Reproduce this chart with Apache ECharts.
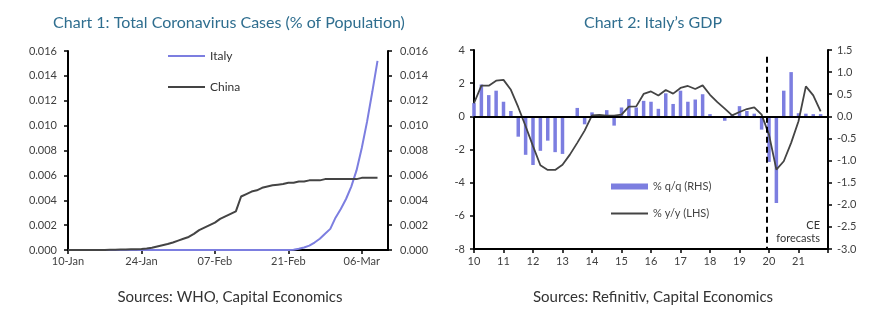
<!DOCTYPE html>
<html><head><meta charset="utf-8">
<script src="https://cdn.jsdelivr.net/npm/echarts@6/dist/echarts.min.js"></script>
<style>html,body{margin:0;padding:0;background:#fff}#c{width:891px;height:326px}</style>
</head><body><div id="c"></div>
<script>
// ---------- Chart 1 data ----------
const dateLabels = [
 '10-Jan','11-Jan','12-Jan','13-Jan','14-Jan','15-Jan','16-Jan','17-Jan','18-Jan','19-Jan','20-Jan','21-Jan','22-Jan','23-Jan','24-Jan','25-Jan','26-Jan','27-Jan','28-Jan','29-Jan','30-Jan','31-Jan',
 '01-Feb','02-Feb','03-Feb','04-Feb','05-Feb','06-Feb','07-Feb','08-Feb','09-Feb','10-Feb','11-Feb','12-Feb','13-Feb','14-Feb','15-Feb','16-Feb','17-Feb','18-Feb','19-Feb','20-Feb','21-Feb','22-Feb','23-Feb','24-Feb','25-Feb','26-Feb','27-Feb','28-Feb','29-Feb',
 '01-Mar','02-Mar','03-Mar','04-Mar','05-Mar','06-Mar','07-Mar','08-Mar','09-Mar','10-Mar','11-Mar'
];
const italyCases = [
 0,0,0,0,0,0,0,0,0,0,0,0,0,0,0,0,0,0,0,0,0,0,0,0,0,0,0,0,0,0,0,0,0,0,0,0,0,0,0,0,0,0,
 0,0.00002,0.0001,0.0002,0.00035,0.0006,0.0009,0.0013,
 0.0017,0.0026,0.0033,0.0041,0.0051,0.0064,0.0082,0.0103,0.0127,0.0152
];
const chinaCases = [
 0,0,0,0,0,0,0,0,
 0.00002,0.00003,0.00004,0.00005,0.00006,0.00007,0.00009,0.00012,
 0.00018,0.00028,0.00038,0.00048,0.0006,0.00075,0.0009,0.00105,
 0.0013,0.0016,0.0018,0.002,0.0022,0.0025,0.0027,0.0029,
 0.0031,0.0043,0.0045,0.0047,0.0048,0.0050,0.0051,0.0052,
 0.00525,0.0053,0.0054,0.0054,0.0055,0.0055,0.0056,0.0056,
 0.0056,0.0057,0.0057,0.0057,0.0057,0.0057,0.0057,0.0057,
 0.0058,0.0058,0.0058,0.0058
];
// ---------- Chart 2 data ----------
const quarters = [
 '2010Q1','2010Q2','2010Q3','2010Q4','2011Q1','2011Q2','2011Q3','2011Q4',
 '2012Q1','2012Q2','2012Q3','2012Q4','2013Q1','2013Q2','2013Q3','2013Q4',
 '2014Q1','2014Q2','2014Q3','2014Q4','2015Q1','2015Q2','2015Q3','2015Q4',
 '2016Q1','2016Q2','2016Q3','2016Q4','2017Q1','2017Q2','2017Q3','2017Q4',
 '2018Q1','2018Q2','2018Q3','2018Q4','2019Q1','2019Q2','2019Q3','2019Q4',
 '2020Q1','2020Q2','2020Q3','2020Q4','2021Q1','2021Q2','2021Q3','2021Q4'
];
const gdpQoQ = [
 0.3,0.72,0.48,0.58, 0.33,0.12,-0.46,-0.87,
 -1.1,-0.78,-0.55,-0.81, -0.85,-0.02,0.19,-0.18,
 0.09,-0.03,0.14,-0.21, 0.2,0.39,0.2,0.35,
 0.33,0.17,0.52,0.28, 0.58,0.33,0.38,0.5,
 0.05,-0.02,-0.1,0.04, 0.23,0.12,0.06,-0.3,
 -1.03,-1.96,0.58,1.0, 0.07,0.06,0.05,0.05
];
const gdpYoY = [
 0.79,1.85,1.85,2.15, 2.2,1.6,0.55,-0.6,
 -1.8,-2.95,-3.23,-3.23, -2.92,-2.31,-1.6,-0.86,
 0.06,0.08,0.04,0.04, 0.1,0.58,0.6,1.35,
 1.5,1.26,1.59,1.37, 1.71,1.83,1.65,1.87,
 1.3,0.86,0.46,0.06, 0.26,0.44,0.54,0.1,
 -1.1,-3.21,-2.71,-1.6, -0.3,1.81,1.26,0.3
];
const forecastStart = 2019.93;

const qx = q => Number(q.slice(0,4)) + (Number(q.slice(5)) - 1) / 4;
const FONT = 'Lato';
const AX = '#404040';
const purple = '#7c7ee0';
const dark = '#444444';

const chart = echarts.init(document.getElementById('c'), null, {renderer:'canvas'});
const axisLineStyle = {show:true, lineStyle:{color:'#000', width:2}};
const tickStyle = {show:true, length:4, lineStyle:{color:'#000', width:1.5}};
const lbl = (extra) => Object.assign({color:AX, fontFamily:FONT, fontSize:11}, extra);

chart.setOption({
  animation:false,
  grid:[
    {left:68, top:51, width:320, height:199},
    {left:474, top:50, width:354, height:199}
  ],
  legend:[
    {data:['Italy'], left:163, top:45, icon:'rect', itemWidth:37, itemHeight:2, selectedMode:false,
     textStyle:{fontFamily:FONT, fontSize:12, color:'#333'}},
    {data:['China'], left:163, top:76, icon:'rect', itemWidth:37, itemHeight:2, selectedMode:false,
     textStyle:{fontFamily:FONT, fontSize:12, color:'#333'}},
    {data:['% q/q (RHS)'], left:606, top:176, icon:'rect', itemWidth:37, itemHeight:6, selectedMode:false,
     textStyle:{fontFamily:FONT, fontSize:11, color:'#444'}},
    {data:['% y/y (LHS)'], left:606, top:203, icon:'rect', itemWidth:37, itemHeight:2, selectedMode:false,
     textStyle:{fontFamily:FONT, fontSize:11, color:'#444'}}
  ],
  xAxis:[
    {type:'category', gridIndex:0, data:dateLabels, boundaryGap:false,
     axisLine:axisLineStyle, axisTick:Object.assign({interval:13}, tickStyle),
     axisLabel:lbl({interval:13, margin:6}), splitLine:{show:false}},
    {type:'value', gridIndex:1, min:2010, max:2022, interval:1,
     axisLine:Object.assign({onZero:false}, axisLineStyle), axisTick:tickStyle,
     axisLabel:lbl({margin:7, formatter:v => v < 2022 ? String(v - 2000) : ''}), splitLine:{show:false}}
  ],
  yAxis:[
    {type:'value', gridIndex:0, min:0, max:0.016, interval:0.002, position:'left',
     axisLine:axisLineStyle, axisTick:tickStyle, splitLine:{show:false},
     axisLabel:lbl({margin:11, formatter:v => v.toFixed(3)})},
    {type:'value', gridIndex:0, min:0, max:0.016, interval:0.002, position:'right',
     axisLine:axisLineStyle, axisTick:tickStyle, splitLine:{show:false},
     axisLabel:lbl({margin:12, formatter:v => v.toFixed(3)})},
    {type:'value', gridIndex:1, min:-8, max:4, interval:2, position:'left',
     axisLine:axisLineStyle, axisTick:tickStyle, splitLine:{show:false},
     axisLabel:lbl({margin:9})},
    {type:'value', gridIndex:1, min:-3, max:1.5, interval:0.5, position:'right',
     axisLine:axisLineStyle, axisTick:tickStyle, splitLine:{show:false},
     axisLabel:lbl({margin:9, formatter:v => v.toFixed(1)})}
  ],
  series:[
    {name:'Italy', type:'line', xAxisIndex:0, yAxisIndex:0, data:italyCases, showSymbol:false, symbol:'none',
     lineStyle:{color:purple, width:2}, itemStyle:{color:purple}, z:2},
    {name:'China', type:'line', xAxisIndex:0, yAxisIndex:0, data:chinaCases, showSymbol:false, symbol:'none',
     lineStyle:{color:dark, width:2}, itemStyle:{color:dark}, z:3},
    {name:'% q/q (RHS)', type:'bar', xAxisIndex:1, yAxisIndex:3, barWidth:3.5,
     data:quarters.map((q,i)=>[qx(q), gdpQoQ[i]]), itemStyle:{color:purple}, z:2},
    {name:'% y/y (LHS)', type:'line', xAxisIndex:1, yAxisIndex:2, showSymbol:false, symbol:'none',
     data:quarters.map((q,i)=>[qx(q), gdpYoY[i]]),
     lineStyle:{color:dark, width:1.8}, itemStyle:{color:dark}, z:3,
     markLine:{silent:true, symbol:'none', label:{show:false}, animation:false,
       data:[
         {yAxis:0, lineStyle:{color:'#000', width:2, type:'solid'}},
         [{coord:[forecastStart, 3.6], lineStyle:{color:'#000', width:2, type:[6,4]}}, {coord:[forecastStart, -8]}]
       ]}}
  ],
  graphic:[
    {type:'text', x:229, y:23, style:{text:'Chart 1: Total Coronavirus Cases (% of Population)', fill:'#2f6e8f',
      font:'16px Lato', textAlign:'center', textVerticalAlign:'middle'}},
    {type:'text', x:653, y:23, style:{text:'Chart 2: Italy\u2019s GDP', fill:'#2f6e8f',
      font:'16px Lato', textAlign:'center', textVerticalAlign:'middle'}},
    {type:'text', x:230, y:297, style:{text:'Sources: WHO, Capital Economics', fill:'#333',
      font:'15px Lato', textAlign:'center', textVerticalAlign:'middle'}},
    {type:'text', x:653, y:297, style:{text:'Sources: Refinitiv, Capital Economics', fill:'#333',
      font:'15px Lato', textAlign:'center', textVerticalAlign:'middle'}},
    {type:'text', x:820, y:225, style:{text:'CE', fill:'#333', font:'11px Lato', textAlign:'right', textVerticalAlign:'middle'}},
    {type:'text', x:820, y:238, style:{text:'forecasts', fill:'#333', font:'11px Lato', textAlign:'right', textVerticalAlign:'middle'}}
  ]
});
</script>
</body></html>
